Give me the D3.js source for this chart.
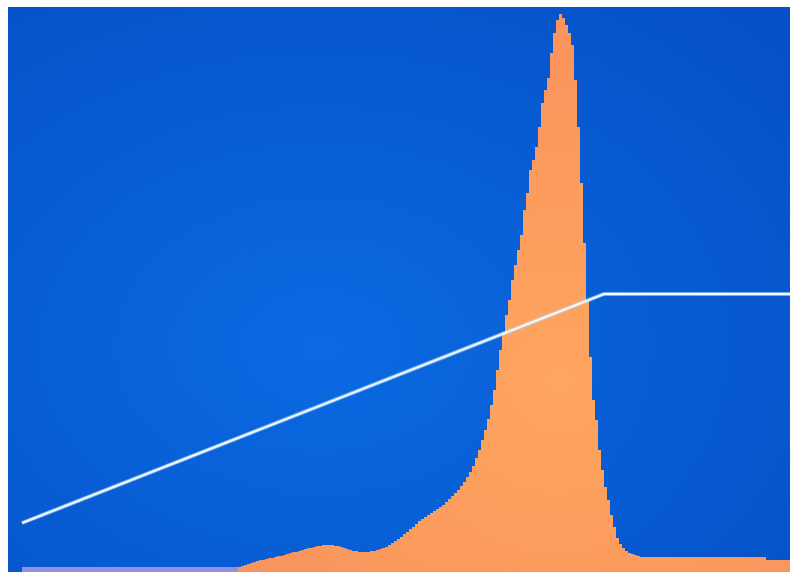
<!DOCTYPE html>
<html lang="en">
  <head>
    <meta charset="UTF-8" />
    <title>Histogram with tone curve</title>
    <script src="https://cdn.jsdelivr.net/npm/d3@7"></script>
    <style>
      html, body { margin: 0; padding: 0; background: #ffffff; }
      svg { display: block; }
    </style>
  </head>
  <body>
    <div id="chart"></div>
    <script>
      // histogram: 256 bins, first non-empty bin is 72, bins before it are empty
      var binCount = 256;
      var histFirstBin = 72;
      var histCounts = [
        3, 4, 5, 6, 7, 8, 9, 10, 10, 11, 12, 12, 13, 14, 14, 15, 16, 17, 18, 18,
        19, 20, 21, 22, 22, 23, 24, 24, 25, 25, 25, 25, 24, 24, 23, 22, 21, 20, 19, 19,
        18, 18, 18, 18, 19, 19, 20, 21, 22, 23, 25, 27, 29, 31, 33, 36, 38, 41, 43, 46,
        49, 51, 53, 55, 57, 59, 61, 63, 65, 68, 71, 74, 77, 80, 84, 88, 93, 98, 104, 112,
        120, 130, 140, 151, 165, 180, 200, 220, 238, 255, 270, 290, 305, 320, 335, 360, 377, 400, 410, 423,
        443, 467, 480, 492, 517, 537, 550, 556, 552, 545, 537, 525, 490, 443, 387, 327, 270, 213, 170, 150,
        120, 100, 83, 70, 55, 43, 32, 26, 22, 19, 17, 16, 15, 14, 13, 13, 13, 13, 13, 13,
        13, 13, 13, 13, 13, 13, 13, 13, 13, 13, 13, 13, 13, 13, 13, 13, 13, 13, 13, 13,
        13, 13, 13, 13, 13, 13, 13, 13, 13, 13, 13, 13, 13, 13, 13, 13, 10, 10, 10, 10
      ];

      // tone curve drawn over the histogram: [bin edge, level]
      var curveBins = [0, 194, 256];
      var curveLevels = [47, 276, 276];

      var width = 790, height = 572;

      var svg = d3.select("#chart").append("svg")
        .attr("width", width)
        .attr("height", height);

      var defs = svg.append("defs");
      var bg = defs.append("radialGradient")
        .attr("id", "screen")
        .attr("cx", "40%").attr("cy", "60%").attr("r", "80%");
      bg.append("stop").attr("offset", "0%").attr("stop-color", "#0b6ae2");
      bg.append("stop").attr("offset", "100%").attr("stop-color", "#0550c6");

      var og = defs.append("radialGradient")
        .attr("id", "fill")
        .attr("gradientUnits", "userSpaceOnUse")
        .attr("cx", 560).attr("cy", 380).attr("r", 320);
      og.append("stop").attr("offset", "0%").attr("stop-color", "#ffa65f");
      og.append("stop").attr("offset", "100%").attr("stop-color", "#f9955c");

      // screen area
      svg.append("rect")
        .attr("x", 8).attr("y", 7)
        .attr("width", width - 8).attr("height", height - 7)
        .attr("fill", "url(#screen)");

      var x = d3.scaleLinear().domain([0, binCount]).range([22, 790]);
      var y = d3.scaleLinear().domain([0, 563]).range([570, 7]);

      // empty bins show as a thin line along the base
      svg.append("rect")
        .attr("x", x(0)).attr("y", 567)
        .attr("width", x(binCount) - x(0)).attr("height", height - 567)
        .attr("fill", "#968fde");

      var bins = histCounts.map(function (v, i) {
        return { bin: histFirstBin + i, value: v };
      });
      bins.push({ bin: binCount, value: histCounts[histCounts.length - 1] });

      var area = d3.area()
        .curve(d3.curveStepAfter)
        .x(function (d) { return x(d.bin); })
        .y0(y(0) + 2)
        .y1(function (d) { return y(d.value); });

      svg.append("path")
        .datum(bins)
        .attr("d", area)
        .attr("fill", "url(#fill)");

      var curve = curveBins.map(function (b, i) {
        return { bin: b, level: curveLevels[i] };
      });

      var line = d3.line()
        .x(function (d) { return x(d.bin); })
        .y(function (d) { return y(d.level); });

      svg.append("path")
        .datum(curve)
        .attr("d", line)
        .attr("fill", "none")
        .attr("stroke", "#bfe6ff")
        .attr("stroke-opacity", 0.6)
        .attr("stroke-width", 4);

      svg.append("path")
        .datum(curve)
        .attr("d", line)
        .attr("fill", "none")
        .attr("stroke", "#f4fbff")
        .attr("stroke-width", 2);
    </script>
  </body>
</html>
